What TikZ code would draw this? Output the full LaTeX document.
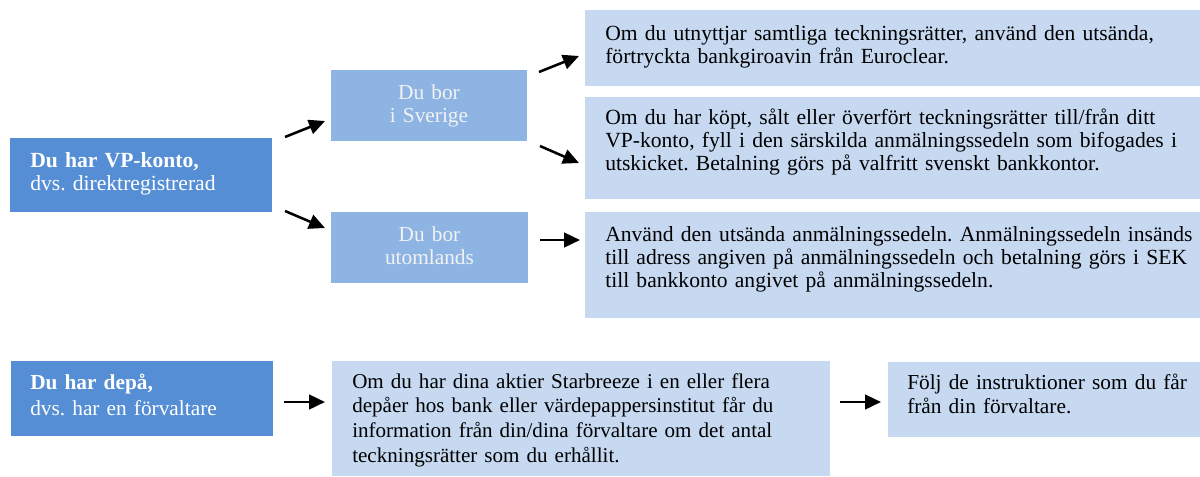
\documentclass[tikz,border=0pt]{standalone}
\usepackage{fontspec}
\setmainfont{Liberation Serif}
\usetikzlibrary{arrows.meta,calc,fit}
\definecolor{dblue}{HTML}{558ED5}
\definecolor{mblue}{HTML}{8EB4E3}
\definecolor{lblue}{HTML}{C6D9F1}
\definecolor{ltext}{HTML}{F2F2F2}
\frenchspacing
\begin{document}
\begin{tikzpicture}[x=0.75pt,y=-0.75pt,
  box/.style={draw=none,inner sep=0pt,outer sep=0pt},
  txt/.style={anchor=base west,inner sep=0pt,align=left,font=\fontsize{16.2}{17.6}\selectfont},
  ctxt/.style={anchor=base,inner sep=0pt,align=center,font=\fontsize{16}{17.6}\selectfont,text=ltext},
  arr/.style={line width=1.9pt,-{Triangle[length=12pt,width=11pt]}}]
\useasboundingbox (0,0) rectangle (1200,476);
% boxes
\node[box,fill=dblue,fit={(10,138) (272,212)}] (a) {};
\node[box,fill=mblue,fit={(331,70) (527,141)}] (b) {};
\node[box,fill=mblue,fit={(331,212) (528,283)}] (c) {};
\node[box,fill=lblue,fit={(585,10) (1200,86)}] (d1) {};
\node[box,fill=lblue,fit={(585,97) (1200,199)}] (d2) {};
\node[box,fill=lblue,fit={(585,212) (1200,318)}] (d3) {};
\node[box,fill=dblue,fit={(11,361) (273,436)}] (e) {};
\node[box,fill=lblue,fit={(332,361) (830,476)}] (f) {};
\node[box,fill=lblue,fit={(888,362) (1200,437)}] (g) {};
% texts
\node[txt,text=white,text width=240pt] (at) at ($(a.north west)+(20,29)$) {\textbf{Du har VP-konto,}\\dvs. direktregistrerad};
\node[ctxt,text width=140pt] (bt) at ($(b.north)+(0,29)$) {Du bor\\i Sverige};
\node[ctxt,text width=140pt] (ct) at ($(c.north)+(0,29)$) {Du bor\\utomlands};
\node[txt,text width=450pt] (d1t) at ($(d1.north west)+(20,30)$) {Om du utnyttjar samtliga teckningsrätter, använd den utsända,\\förtryckta bankgiroavin från Euroclear.};
\node[txt,text width=450pt] (d2t) at ($(d2.north west)+(20,27)$) {Om du har köpt, sålt eller överfört teckningsrätter till/från ditt\\VP-konto, fyll i den särskilda anmälningssedeln som bifogades i\\utskicket. Betalning görs på valfritt svenskt bankkontor.};
\node[txt,text width=450pt] (d3t) at ($(d3.north west)+(20,29)$) {Använd den utsända anmälningssedeln. Anmälningssedeln insänds\\till adress angiven på anmälningssedeln och betalning görs i SEK\\till bankkonto angivet på anmälningssedeln.};
\node[txt,text=white,text width=190pt,font=\fontsize{16}{19.5}\selectfont] (et) at ($(e.north west)+(19,28)$) {\textbf{Du har depå,}\\dvs. har en förvaltare};
\node[txt,text width=360pt,font=\fontsize{15.8}{18.5}\selectfont] (ft) at ($(f.north west)+(20,27)$) {Om du har dina aktier Starbreeze i en eller flera\\depåer hos bank eller värdepappersinstitut får du\\information från din/dina förvaltare om det antal\\teckningsrätter som du erhållit.};
\node[txt,text width=225pt,font=\fontsize{16}{18}\selectfont] (gt) at ($(g.north west)+(19,27)$) {Följ de instruktioner som du får\\från din förvaltare.};
% arrow ends
\coordinate (ab1) at (285,137); \coordinate (ab2) at (325,121);
\coordinate (ac1) at (285,211); \coordinate (ac2) at (325,228);
\coordinate (bd1) at (539,72);  \coordinate (bd2) at (579,56);
\coordinate (be1) at (540,146); \coordinate (be2) at (579,163);
\coordinate (cd1) at (540,240); \coordinate (cd2) at (580,240);
\coordinate (ef1) at (284,402); \coordinate (ef2) at (325,402);
\coordinate (fg1) at (840,402); \coordinate (fg2) at (881,402);
\draw[arr] (ab1) -- (ab2);
\draw[arr] (ac1) -- (ac2);
\draw[arr] (bd1) -- (bd2);
\draw[arr] (be1) -- (be2);
\draw[arr] (cd1) -- (cd2);
\draw[arr] (ef1) -- (ef2);
\draw[arr] (fg1) -- (fg2);
\end{tikzpicture}
\end{document}
